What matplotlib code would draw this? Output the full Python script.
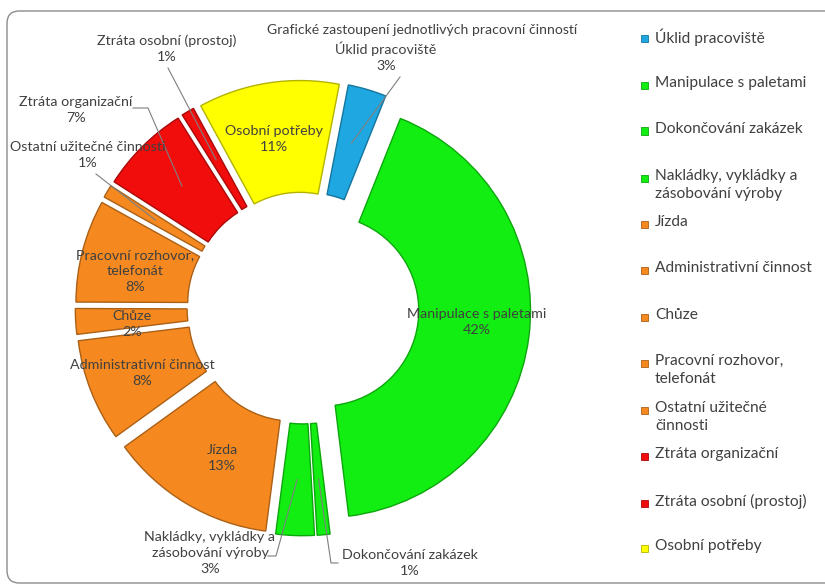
import matplotlib
matplotlib.use('Agg')
import matplotlib.pyplot as plt
from matplotlib.patches import Rectangle, FancyBboxPatch
import matplotlib.colors as mcolors
import numpy as np

plt.rcParams['font.family'] = ['Lato', 'DejaVu Sans']

# data (clockwise from top)
categories = ['Úklid pracoviště', 'Manipulace s paletami', 'Dokončování zakázek',
              'Nakládky, vykládky a\nzásobování výroby', 'Jízda', 'Administrativní činnost',
              'Chůze', 'Pracovní rozhovor,\ntelefonát', 'Ostatní užitečné\nčinnosti',
              'Ztráta organizační', 'Ztráta osobní (prostoj)', 'Osobní potřeby']
shares = [3, 42, 1, 3, 13, 8, 2, 8, 1, 7, 1, 11]
colors = ['#1ea7e0', '#12ee12', '#12ee12', '#12ee12', '#f5891f', '#f5891f',
          '#f5891f', '#f5891f', '#f5891f', '#f20d0d', '#f20d0d', '#ffff00']
title = 'Grafické zastoupení jednotlivých pracovní činností'

# label texts on the chart (some wrap differently than in the legend)
chart_labels = ['Úklid pracoviště', 'Manipulace s paletami', 'Dokončování zakázek',
                'Nakládky, vykládky a\nzásobování výroby', 'Jízda', 'Administrativní činnost',
                'Chůze', 'Pracovní rozhovor,\ntelefonát', 'Ostatní užitečné činnosti',
                'Ztráta organizační', 'Ztráta osobní (prostoj)', 'Osobní potřeby']

W, H = 825, 588
CX, CY, S = 303, 308, 207  # pie centre in pixels and pixels per unit


def px(x, y):
    return (x - CX) / S, (CY - y) / S


fig = plt.figure(figsize=(W / 100, H / 100), dpi=100)
ax = fig.add_axes([0, 0, 1, 1])

wedges, _ = ax.pie(shares, colors=colors, explode=[0.1] * len(shares),
                   startangle=79, counterclock=False, radius=1,
                   wedgeprops=dict(width=0.54, linewidth=1.0))
for w, c in zip(wedges, colors):
    w.set_edgecolor(np.array(mcolors.to_rgb(c)) * 0.7)

x0, y0 = px(0, 0)
x1, y1 = px(W, H)
ax.set_xlim(x0, x1)
ax.set_ylim(y1, y0)
ax.set_aspect('auto')
ax.axis('off')

# frame
bx, by = px(7, 583)
box = FancyBboxPatch((bx, by), (840 - 7) / S, (583 - 11) / S,
                     boxstyle='round,pad=0,rounding_size=0.06',
                     fc='none', ec='#8c8c8c', lw=1.0, clip_on=False)
ax.add_patch(box)

txt = dict(fontsize=10.3, color='#404040', ha='center', va='center', linespacing=1.4)
ax.text(*px(422, 30), title, **{**txt, 'fontsize': 10.1})

# label block centres (pixels), and leader line starts
label_pos = {0: (386, 57), 1: (477, 322), 2: (410, 563), 3: (210, 553), 4: (222, 458),
             5: (142, 373), 6: (132, 324), 7: (135, 271), 8: (88, 155), 9: (76, 110),
             10: (167, 49), 11: (274, 139)}
leaders = {0: [(400, 77)], 2: [(338, 563), (331, 563)], 3: [(268, 556), (276, 556)],
           8: [(96, 174)], 9: [(133, 108), (148, 108)], 10: [(168, 68)]}

for i, w in enumerate(wedges):
    lx, ly = label_pos[i]
    ax.text(*px(lx, ly), f'{chart_labels[i]}\n{shares[i]}%', **txt)
    if i in leaders:
        mid = np.deg2rad((w.theta1 + w.theta2) / 2)
        rr = w.r - w.width / 2
        ancx = w.center[0] + rr * np.cos(mid)
        ancy = w.center[1] + rr * np.sin(mid)
        pts = [px(*p) for p in leaders[i]] + [(ancx, ancy)]
        xs, ys = zip(*pts)
        ax.plot(xs, ys, color='#7f7f7f', lw=0.8)

# legend
legend_y = [38, 85, 131, 178, 224, 270, 317, 363, 410, 456, 503, 548]
for i, cat in enumerate(categories):
    ly = legend_y[i]
    sx, sy = px(641, ly + 3.5)
    ax.add_patch(Rectangle((sx, sy), 7 / S, 7 / S, fc=colors[i],
                           ec=np.array(mcolors.to_rgb(colors[i])) * 0.7, lw=0.6))
    ax.text(*px(655, ly - 9), cat, fontsize=11.2, color='#404040', ha='left', va='top',
            linespacing=1.35)

fig.savefig('out.png', dpi=100)
